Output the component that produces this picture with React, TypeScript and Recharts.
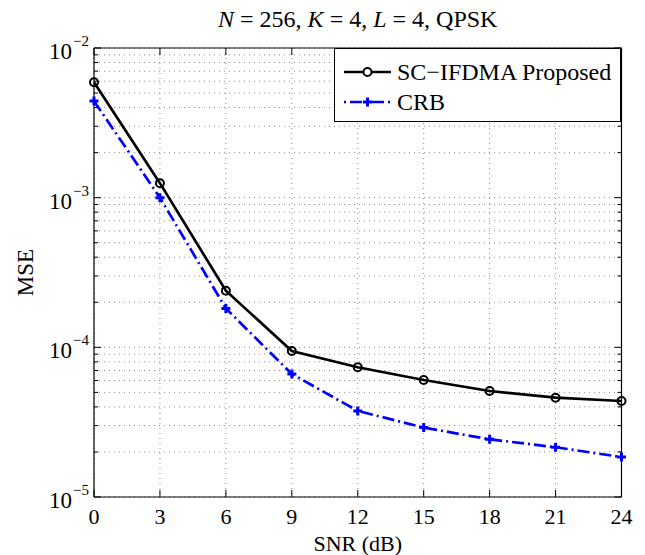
import React from 'react';
import { LineChart, Line, XAxis, YAxis, CartesianGrid, Legend } from 'recharts';

const FONT = '"Liberation Serif", "Times New Roman", serif';

const snr = [0, 3, 6, 9, 12, 15, 18, 21, 24];
const proposedMse = [5.9e-3, 1.25e-3, 2.39e-4, 9.46e-5, 7.36e-5, 6.05e-5, 5.11e-5, 4.61e-5, 4.38e-5];
const crbMse = [4.42e-3, 1.0e-3, 1.82e-4, 6.64e-5, 3.76e-5, 2.91e-5, 2.43e-5, 2.15e-5, 1.85e-5];

const xTicks = [0, 3, 6, 9, 12, 15, 18, 21, 24];
const yMajorTicks = [1e-5, 1e-4, 1e-3, 1e-2];
const yExponents = ['−5', '−4', '−3', '−2'];
const seriesNames = ['SC−IFDMA Proposed', 'CRB'];

// log axis: majors plus 2..9 in each decade (grid + ticks)
const yTicks: number[] = [];
yMajorTicks.forEach((d, i) => {
  yTicks.push(d);
  if (i < yMajorTicks.length - 1) for (let k = 2; k <= 9; k++) yTicks.push(d * k);
});

const data = snr.map((s, i) => ({ snr: s, proposed: proposedMse[i], crb: crbMse[i] }));

const majorIndex = (v: number) => yMajorTicks.findIndex(t => Math.abs(t - v) / t < 1e-6);

const LeftTick = (props: any) => {
  const { x, y, payload } = props;
  const idx = majorIndex(payload.value);
  const major = idx >= 0;
  return (
    <g>
      <line x1={x} x2={x + (major ? 7 : 4)} y1={y} y2={y} stroke="#000" strokeWidth={1} />
      {major && (
        <g fontFamily={FONT} fill="#000">
          <text x={x - 22} y={y + 11} textAnchor="end" fontSize={23}>10</text>
          <text x={x - 21} y={y - 2} textAnchor="start" fontSize={15}>{yExponents[idx]}</text>
        </g>
      )}
    </g>
  );
};

const RightTick = (props: any) => {
  const { x, y, payload } = props;
  const major = majorIndex(payload.value) >= 0;
  return <line x1={x} x2={x - (major ? 7 : 4)} y1={y} y2={y} stroke="#000" strokeWidth={1} />;
};

const BottomTick = (props: any) => {
  const { x, y, payload } = props;
  return (
    <g>
      <line x1={x} x2={x} y1={y} y2={y - 7} stroke="#000" strokeWidth={1} />
      <text x={x} y={y + 27} textAnchor="middle" fontSize={22} fontFamily={FONT} fill="#000">
        {payload.value}
      </text>
    </g>
  );
};

const TopTick = (props: any) => {
  const { x, y } = props;
  return <line x1={x} x2={x} y1={y} y2={y + 7} stroke="#000" strokeWidth={1} />;
};

const PlusDot = (props: any) => {
  const { cx, cy } = props;
  if (cx == null || cy == null) return null;
  return (
    <path
      d={`M${cx - 4.5},${cy}H${cx + 4.5}M${cx},${cy - 4.5}V${cy + 4.5}`}
      stroke="#0000ff"
      strokeWidth={3}
      fill="none"
    />
  );
};

const renderTitle = (props: any) => {
  const vb = props.viewBox;
  return (
    <text x={vb.x + vb.width / 2} y={27} textAnchor="middle" fontSize={24} fontFamily={FONT} fill="#000">
      <tspan fontStyle="italic">N</tspan>
      <tspan> = 256, </tspan>
      <tspan fontStyle="italic">K</tspan>
      <tspan> = 4, </tspan>
      <tspan fontStyle="italic">L</tspan>
      <tspan> = 4, QPSK</tspan>
    </text>
  );
};

const renderXLabel = (props: any) => {
  const vb = props.viewBox;
  return (
    <text x={vb.x + vb.width / 2} y={551} textAnchor="middle" fontSize={22} fontFamily={FONT} fill="#000">
      SNR (dB)
    </text>
  );
};

const renderYLabel = (props: any) => {
  const vb = props.viewBox;
  const cx = 25;
  const cy = vb.y + vb.height / 2;
  return (
    <text
      x={cx}
      y={cy}
      transform={`rotate(-90, ${cx}, ${cy})`}
      textAnchor="middle"
      dominantBaseline="central"
      fontSize={23}
      fontFamily={FONT}
      fill="#000"
    >
      MSE
    </text>
  );
};

const LegendBox = () => (
  <div
    style={{
      width: 287,
      height: 74,
      border: '1.3px solid #000',
      background: '#fff',
      boxSizing: 'border-box',
      position: 'relative',
    }}
  >
    <svg width={285} height={72} style={{ position: 'absolute', left: 0, top: 0 }}>
      <line x1={9} x2={56} y1={23} y2={23} stroke="#000" strokeWidth={2.7} />
      <circle cx={32.5} cy={23} r={4} stroke="#000" strokeWidth={2} fill="#fff" />
      <text x={62} y={31} fontSize={24} fontFamily={FONT} fill="#000">{seriesNames[0]}</text>
      <line x1={9} x2={56} y1={53} y2={53} stroke="#0000ff" strokeWidth={2.7} strokeDasharray="12 4 2 4" strokeDashoffset={-6} />
      <PlusDot cx={32.5} cy={53} />
      <text x={62} y={61} fontSize={24} fontFamily={FONT} fill="#000">{seriesNames[1]}</text>
    </svg>
  </div>
);

export default function App() {
  return (
    <div style={{ position: 'absolute', left: 0, top: 0, width: 645, height: 555, background: '#fff' }}>
      <LineChart width={645} height={555} data={data} margin={{ top: 0, right: 0, bottom: 0, left: 0 }}>
        <CartesianGrid
          xAxisId="bottom"
          yAxisId="left"
          stroke="#8c8c8c"
          strokeWidth={1}
          strokeDasharray="1 4"
        />
        <XAxis
          xAxisId="bottom"
          dataKey="snr"
          type="number"
          domain={[0, 24]}
          ticks={xTicks}
          interval={0}
          height={58}
          tickSize={0}
          tickMargin={0}
          tickLine={false}
          axisLine={{ stroke: '#000', strokeWidth: 1.2 }}
          tick={<BottomTick />}
          label={renderXLabel}
        />
        <XAxis
          xAxisId="top"
          orientation="top"
          dataKey="snr"
          type="number"
          domain={[0, 24]}
          ticks={xTicks}
          interval={0}
          height={48}
          tickSize={0}
          tickMargin={0}
          tickLine={false}
          axisLine={{ stroke: '#000', strokeWidth: 1.2 }}
          tick={<TopTick />}
          label={renderTitle}
        />
        <YAxis
          yAxisId="left"
          scale="log"
          domain={[1e-5, 1e-2]}
          allowDataOverflow
          ticks={yTicks}
          interval={0}
          width={94}
          tickSize={0}
          tickMargin={0}
          tickLine={false}
          axisLine={{ stroke: '#000', strokeWidth: 1.2 }}
          tick={<LeftTick />}
          label={renderYLabel}
        />
        <YAxis
          yAxisId="right"
          orientation="right"
          scale="log"
          domain={[1e-5, 1e-2]}
          allowDataOverflow
          ticks={yTicks}
          interval={0}
          width={23.5}
          tickSize={0}
          tickMargin={0}
          tickLine={false}
          axisLine={{ stroke: '#000', strokeWidth: 1.2 }}
          tick={<RightTick />}
        />
        <Legend
          layout="vertical"
          verticalAlign="middle"
          align="center"
          content={<LegendBox />}
          wrapperStyle={{ position: 'absolute', left: 334, top: 48, width: 287, height: 74 }}
        />
        <Line
          xAxisId="bottom"
          yAxisId="left"
          type="linear"
          dataKey="proposed"
          name={seriesNames[0]}
          stroke="#000"
          strokeWidth={2.7}
          dot={{ r: 4, stroke: '#000', strokeWidth: 2, fill: 'none' }}
          isAnimationActive={false}
        />
        <Line
          xAxisId="bottom"
          yAxisId="left"
          type="linear"
          dataKey="crb"
          name={seriesNames[1]}
          stroke="#0000ff"
          strokeWidth={2.7}
          strokeDasharray="12 4 2 4"
          dot={<PlusDot />}
          isAnimationActive={false}
        />
      </LineChart>
    </div>
  );
}
